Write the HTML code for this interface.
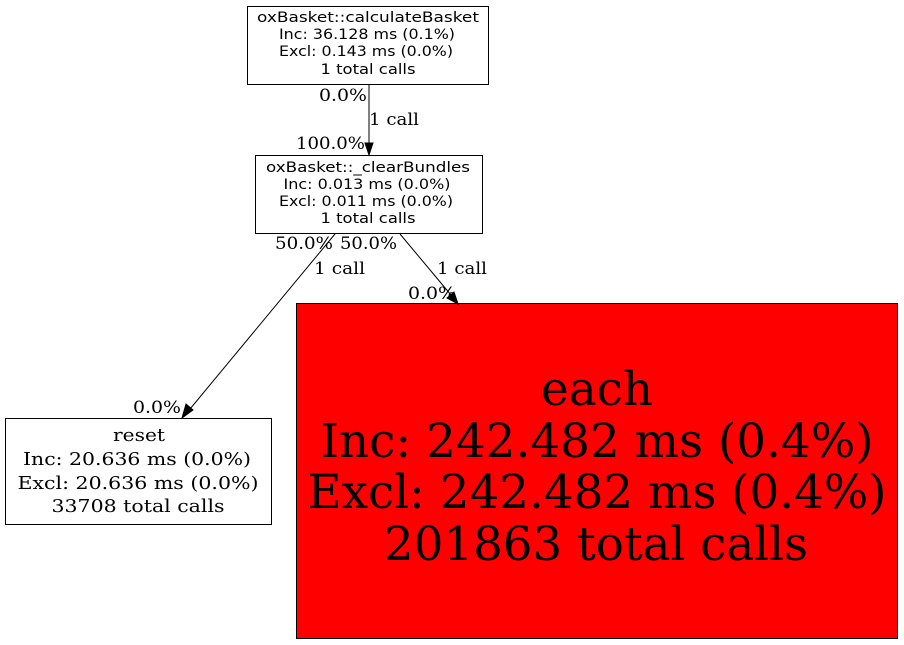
<!DOCTYPE html>
<html><head><meta charset="utf-8"><style>
html,body{margin:0;padding:0;background:#fff;}
svg{display:block;}
.s{font-family:"DejaVu Sans","Liberation Sans",sans-serif;font-size:14px;}
.f{font-family:"DejaVu Serif","Liberation Serif",serif;}
</style></head><body>
<svg width="904" height="645" viewBox="0 0 904 645" xmlns="http://www.w3.org/2000/svg">
<rect width="904" height="645" fill="#fff"/>
<g stroke="#000" fill="none">
<rect x="247.5" y="6.5" width="241" height="78"/>
<rect x="255.5" y="155.5" width="227" height="78"/>
<rect x="5.5" y="418.5" width="266" height="106"/>
<rect x="296.5" y="303.5" width="601" height="335" fill="#ff0000"/>
<line x1="369" y1="85" x2="369" y2="144"/>
<line x1="335" y1="234" x2="190" y2="409"/>
<line x1="400" y1="234" x2="451" y2="295"/>
</g>
<g fill="#000" stroke="#000">
<polygon points="365,143 373,143 369,155"/>
<polygon points="186,404 193,410 182,418"/>
<polygon points="447,298 454,292 458,304"/>
</g>
<g class="s" text-anchor="middle" fill="#000" lengthAdjust="spacingAndGlyphs">
<text x="368" y="22" textLength="222" lengthAdjust="spacingAndGlyphs">oxBasket::calculateBasket</text>
<text x="367" y="39" textLength="176" lengthAdjust="spacingAndGlyphs">Inc: 36.128 ms (0.1%)</text>
<text x="366" y="56" textLength="174" lengthAdjust="spacingAndGlyphs">Excl: 0.143 ms (0.0%)</text>
<text x="368" y="74" textLength="95" lengthAdjust="spacingAndGlyphs">1 total calls</text>
<text x="368" y="172" textLength="204" lengthAdjust="spacingAndGlyphs">oxBasket::_clearBundles</text>
<text x="367" y="189" textLength="167" lengthAdjust="spacingAndGlyphs">Inc: 0.013 ms (0.0%)</text>
<text x="366" y="206" textLength="174" lengthAdjust="spacingAndGlyphs">Excl: 0.011 ms (0.0%)</text>
<text x="368" y="223" textLength="95" lengthAdjust="spacingAndGlyphs">1 total calls</text>
</g>
<g class="f" text-anchor="middle" fill="#000" font-size="18">
<text x="139" y="441" textLength="52" lengthAdjust="spacingAndGlyphs">reset</text>
<text x="137" y="465" textLength="228" lengthAdjust="spacingAndGlyphs">Inc: 20.636 ms (0.0%)</text>
<text x="138" y="489" textLength="241" lengthAdjust="spacingAndGlyphs">Excl: 20.636 ms (0.0%)</text>
<text x="138" y="512" textLength="173" lengthAdjust="spacingAndGlyphs">33708 total calls</text>
</g>
<g class="f" text-anchor="middle" fill="#000" font-size="47">
<text x="597" y="405" textLength="112" lengthAdjust="spacingAndGlyphs">each</text>
<text x="597" y="457" textLength="553" lengthAdjust="spacingAndGlyphs">Inc: 242.482 ms (0.4%)</text>
<text x="597" y="508" textLength="579" lengthAdjust="spacingAndGlyphs">Excl: 242.482 ms (0.4%)</text>
<text x="596" y="560" textLength="424" lengthAdjust="spacingAndGlyphs">201863 total calls</text>
</g>
<g class="f" fill="#000" font-size="17">
<text x="319" y="101" textLength="48" lengthAdjust="spacingAndGlyphs">0.0%</text>
<text x="369" y="125" textLength="50" lengthAdjust="spacingAndGlyphs">1 call</text>
<text x="296" y="149" textLength="69" lengthAdjust="spacingAndGlyphs">100.0%</text>
<text x="275" y="249" textLength="58" lengthAdjust="spacingAndGlyphs">50.0%</text>
<text x="340" y="249" textLength="57" lengthAdjust="spacingAndGlyphs">50.0%</text>
<text x="314" y="274" textLength="51" lengthAdjust="spacingAndGlyphs">1 call</text>
<text x="437" y="274" textLength="50" lengthAdjust="spacingAndGlyphs">1 call</text>
<text x="408" y="299" textLength="48" lengthAdjust="spacingAndGlyphs">0.0%</text>
<text x="133" y="413" textLength="48" lengthAdjust="spacingAndGlyphs">0.0%</text>
</g>
</svg>
</body></html>
